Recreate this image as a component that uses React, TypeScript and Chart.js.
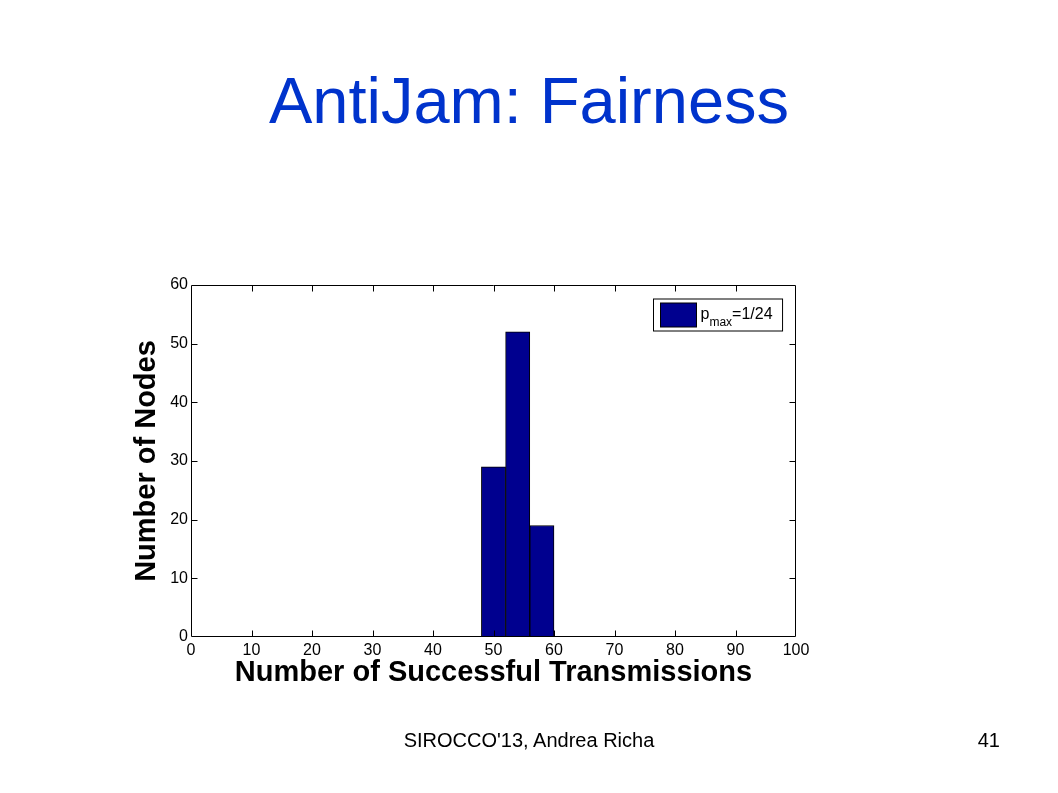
import React, { useEffect, useRef } from "react";
import { Chart, registerables } from "chart.js";

Chart.register(...registerables);

const TITLE = "AntiJam: Fairness";
const FOOTER = "SIROCCO'13, Andrea Richa";
const PAGE_NO = "41";
const X_TITLE = "Number of Successful Transmissions";
const Y_TITLE = "Number of Nodes";

const BIN_CENTERS = [50, 54, 58];
const NODE_COUNTS = [29, 52, 19];
const X_MIN = 0;
const X_MAX = 100;
const X_STEP = 10;
const Y_MIN = 0;
const Y_MAX = 60;
const Y_STEP = 10;

const LEGEND_BASE = "p";
const LEGEND_SUB = "max";
const LEGEND_TAIL = "=1/24";

const BAR_COLOR = "#00008F";
const FONT = 'Arial, "Liberation Sans", Helvetica, sans-serif';

const framePlugin = {
  id: "matlabFrame",
  afterDatasetsDraw(chart: any) {
    const { ctx, chartArea } = chart;
    const { left, right, top, bottom } = chartArea;
    const xs = chart.scales.x;
    const ys = chart.scales.y;
    ctx.save();
    ctx.strokeStyle = "#000";
    ctx.lineWidth = 1;
    const L = Math.round(left) + 0.5;
    const R = Math.round(right) - 0.5;
    const T = Math.round(top) + 0.5;
    const B = Math.round(bottom) - 0.5;
    ctx.beginPath();
    ctx.rect(L, T, R - L, B - T);
    ctx.stroke();
    const tick = 6;
    ctx.beginPath();
    xs.ticks.forEach((t: any) => {
      if (t.value === X_MIN || t.value === X_MAX) return;
      const px = Math.round(xs.getPixelForValue(t.value)) + 0.5;
      ctx.moveTo(px, B);
      ctx.lineTo(px, B - tick);
      ctx.moveTo(px, T);
      ctx.lineTo(px, T + tick);
    });
    ys.ticks.forEach((t: any) => {
      if (t.value === Y_MIN || t.value === Y_MAX) return;
      const py = Math.round(ys.getPixelForValue(t.value)) + 0.5;
      ctx.moveTo(L, py);
      ctx.lineTo(L + tick, py);
      ctx.moveTo(R, py);
      ctx.lineTo(R - tick, py);
    });
    ctx.stroke();

    // legend
    const mainFont = `16px ${FONT}`;
    const subFont = `12px ${FONT}`;
    ctx.font = mainFont;
    const wBase = ctx.measureText(LEGEND_BASE).width;
    const wTail = ctx.measureText(LEGEND_TAIL).width;
    ctx.font = subFont;
    const wSub = ctx.measureText(LEGEND_SUB).width;
    const patchW = 36;
    const patchH = 24;
    const boxW = 7 + patchW + 4 + wBase + wSub + wTail + 10;
    const boxH = 32;
    const bx = Math.round(R - 13 - boxW) + 0.5;
    const by = Math.round(T + 13);
    ctx.fillStyle = "#fff";
    ctx.fillRect(bx, by, boxW, boxH);
    ctx.strokeRect(bx, by, boxW, boxH);
    ctx.fillStyle = BAR_COLOR;
    ctx.fillRect(bx + 7, by + 4, patchW, patchH);
    ctx.strokeRect(bx + 7, by + 4, patchW, patchH);
    ctx.fillStyle = "#000";
    ctx.textBaseline = "alphabetic";
    ctx.textAlign = "left";
    let tx = bx + 7 + patchW + 4;
    const baseY = by + 20;
    ctx.font = mainFont;
    ctx.fillText(LEGEND_BASE, tx, baseY);
    tx += wBase;
    ctx.font = subFont;
    ctx.fillText(LEGEND_SUB, tx, baseY + 7);
    tx += wSub;
    ctx.font = mainFont;
    ctx.fillText(LEGEND_TAIL, tx, baseY);
    ctx.restore();
  },
};

function HistChart() {
  const ref = useRef<HTMLCanvasElement | null>(null);
  useEffect(() => {
    if (!ref.current) return;
    const points = BIN_CENTERS.map((x, i) => ({ x, y: NODE_COUNTS[i] }));
    const chart = new Chart(ref.current, {
      type: "bar",
      data: {
        datasets: [
          {
            label: LEGEND_BASE + "_" + LEGEND_SUB + LEGEND_TAIL,
            data: points as any,
            backgroundColor: BAR_COLOR,
            borderColor: "#000",
            borderWidth: 1,
            barPercentage: 1,
            categoryPercentage: 1,
          },
        ],
      },
      options: {
        responsive: false,
        animation: false,
        devicePixelRatio: 1,
        layout: { padding: { top: 285, right: 262, left: 0, bottom: 0 } },
        plugins: {
          legend: { display: false },
          tooltip: { enabled: false },
          title: { display: false },
        },
        scales: {
          x: {
            type: "linear",
            min: X_MIN,
            max: X_MAX,
            offset: false,
            grid: { display: false, drawTicks: false },
            border: { display: false },
            ticks: {
              stepSize: X_STEP,
              color: "#000",
              padding: 4,
              maxRotation: 0,
              font: { family: FONT, size: 16 },
            },
            title: {
              display: true,
              text: X_TITLE,
              color: "#000",
              font: { family: FONT, size: 29, weight: "bold" },
              padding: { top: 0, bottom: 103 },
            },
            afterFit(scale: any) {
              scale.height = 156;
            },
          },
          y: {
            min: Y_MIN,
            max: Y_MAX,
            grid: { display: false, drawTicks: false },
            border: { display: false },
            ticks: {
              stepSize: Y_STEP,
              color: "#000",
              padding: 3,
              font: { family: FONT, size: 16 },
            },
            title: {
              display: true,
              text: Y_TITLE,
              color: "#000",
              font: { family: FONT, size: 29, weight: "bold" },
              padding: { top: 130, bottom: 0 },
            },
            afterFit(scale: any) {
              scale.width = 191;
            },
          },
        },
      } as any,
      plugins: [framePlugin],
    });
    return () => chart.destroy();
  }, []);
  return (
    <canvas
      ref={ref}
      width={1058}
      height={793}
      style={{ position: "absolute", left: 0, top: 0, width: 1058, height: 793 }}
    />
  );
}

export default function App() {
  return (
    <div
      style={{
        position: "absolute",
        left: 0,
        top: 0,
        width: 1058,
        height: 793,
        background: "#fff",
        overflow: "hidden",
        fontFamily: FONT,
      }}
    >
      <div
        style={{
          position: "absolute",
          left: 0,
          top: 68,
          width: 1058,
          textAlign: "center",
          fontSize: 65,
          lineHeight: "65px",
          color: "#0033CC",
        }}
      >
        {TITLE}
      </div>
      <HistChart />
      <div
        style={{
          position: "absolute",
          left: 0,
          top: 730,
          width: 1058,
          textAlign: "center",
          fontSize: 20,
          lineHeight: "20px",
          color: "#000",
        }}
      >
        {FOOTER}
      </div>
      <div
        style={{
          position: "absolute",
          left: 940,
          top: 730,
          width: 60,
          textAlign: "right",
          fontSize: 20,
          lineHeight: "20px",
          color: "#000",
        }}
      >
        {PAGE_NO}
      </div>
    </div>
  );
}
